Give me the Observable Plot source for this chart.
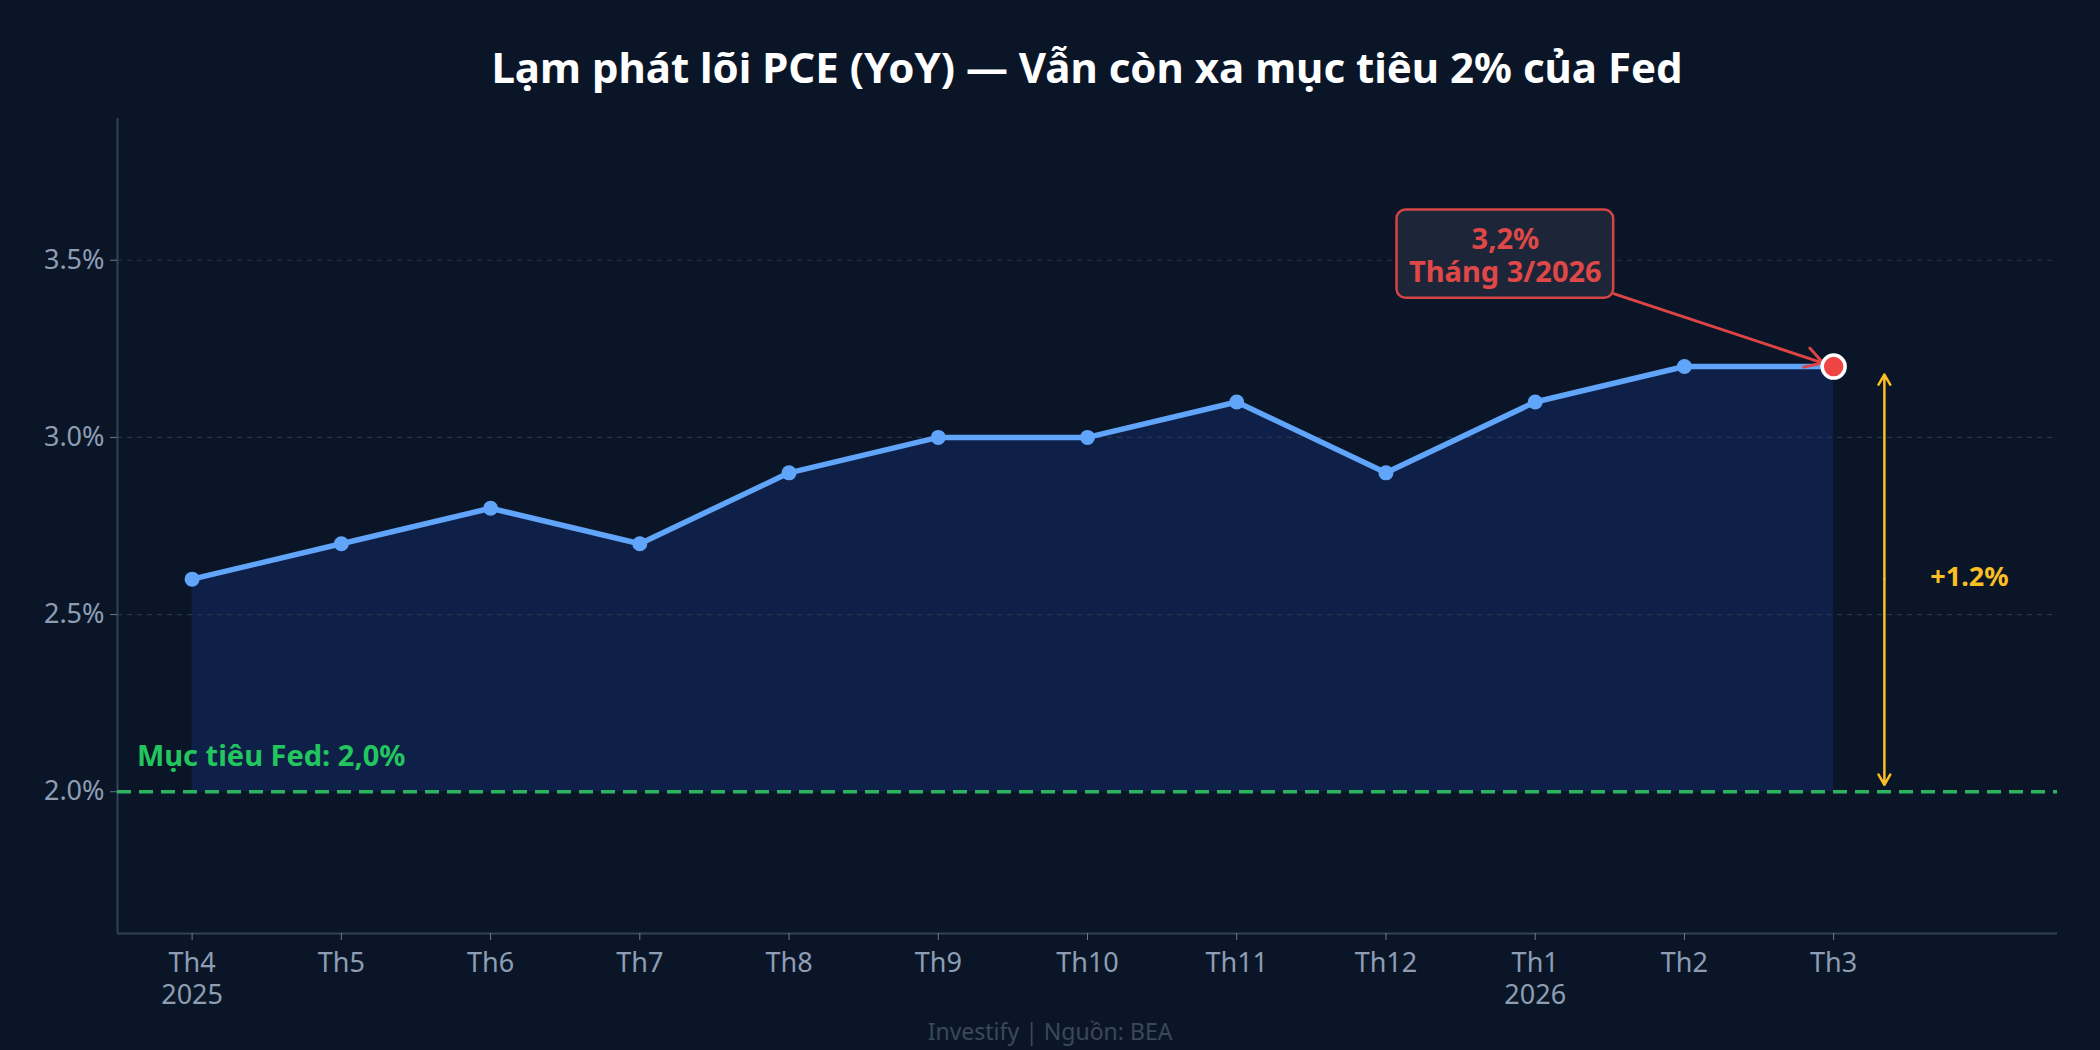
<!DOCTYPE html>
<html><head><meta charset="utf-8">
<script src="https://cdn.jsdelivr.net/npm/d3@7"></script>
<script src="https://cdn.jsdelivr.net/npm/@observablehq/plot@0.6"></script>
<style>
html,body{margin:0;padding:0;background:#0a1628;}
#wrap{position:relative;width:2100px;height:1050px;background:#0a1628;font-family:"Noto Sans",sans-serif;overflow:hidden;}
#title{position:absolute;left:117px;width:1940px;top:38px;text-align:center;color:#ffffff;font-weight:700;font-size:42px;line-height:58px;white-space:nowrap;}
#chart{position:absolute;left:0;top:100px;}
#caption{position:absolute;left:0;width:2100px;top:1016px;text-align:center;color:#3b485b;font-size:23px;line-height:30px;}
</style>
</head><body>
<div id="wrap">
  <div id="title">Lạm phát lõi PCE (YoY) — Vẫn còn xa mục tiêu 2% của Fed</div>
  <div id="chart"></div>
  <div id="caption">Investify | Nguồn: BEA</div>
</div>
<script>
// ---- data ----
const months = ["Th4","Th5","Th6","Th7","Th8","Th9","Th10","Th11","Th12","Th1","Th2","Th3"];
const years  = ["2025","","","","","","","","","2026","",""];
const pce    = [2.6, 2.7, 2.8, 2.7, 2.9, 3.0, 3.0, 3.1, 2.9, 3.1, 3.2, 3.2];
const fedTarget = 2.0;
const yTicks = [2.0, 2.5, 3.0, 3.5];
const yDomain = [1.6, 3.9];
const xDomain = [-0.5, 12.5];
// annotation anchors (data coordinates)
const calloutText = ["3,2%\nTháng 3/2026"];
const calloutPos = [{x: 8.80, y: 3.515}];
const calloutArrowStart = [{x: 9.53, y: 3.405}];
const gapArrowX = 11.34;
const gapLabel = [{x: 11.91, y: 2.605, text: "+1.2%"}];
const targetLabel = [{x: -0.37, y: 2.098, text: "Mục tiêu Fed: 2,0%"}];

const data = pce.map((v, i) => ({i, v}));
const last = data[data.length - 1];
const gapMid = (last.v + fedTarget) / 2;

const plot = Plot.plot({
  width: 2100,
  height: 940,
  marginTop: 18,
  marginBottom: 107,
  marginLeft: 117,
  marginRight: 43,
  style: {background: "transparent", fontFamily: "Noto Sans, sans-serif", overflow: "visible"},
  x: {type: "linear", domain: xDomain},
  y: {domain: yDomain},
  marks: [
    Plot.areaY(data, {x: "i", y1: fedTarget, y2: "v", fill: "#0e2047"}),
    Plot.gridY(yTicks.filter(t => t !== fedTarget), {stroke: "#27364d", strokeOpacity: 1, strokeWidth: 1.2, strokeDasharray: "5,5"}),
    Plot.ruleX([xDomain[0]], {stroke: "#334257", strokeWidth: 2}),
    Plot.ruleY([yDomain[0]], {stroke: "#334257", strokeWidth: 2}),
    Plot.axisY({ticks: yTicks, tickFormat: d => d.toFixed(1) + "%", fontSize: 27, color: "#8e9db3", stroke: "#6b7a90", tickSize: 7, tickPadding: 6, label: null}),
    Plot.axisX({ticks: d3.range(months.length), tickFormat: i => months[i] + (years[i] ? "\n" + years[i] : ""), fontSize: 27, color: "#8e9db3", stroke: "#6b7a90", tickSize: 7, tickPadding: 8, lineHeight: 1.2, label: null}),
    Plot.ruleY([fedTarget], {stroke: "#2bb35f", strokeWidth: 3.5, strokeDasharray: "14,8"}),
    Plot.text(targetLabel, {x: "x", y: "y", text: "text", textAnchor: "start", fill: "#22c55e", fontSize: 29, fontWeight: 700}),
    Plot.line(data, {x: "i", y: "v", stroke: "#60a5fa", strokeWidth: 5.5}),
    Plot.dot(data.slice(0, -1), {x: "i", y: "v", r: 7.5, fill: "#60a5fa"}),
    Plot.arrow(calloutArrowStart, {x1: "x", y1: "y", x2: () => last.i, y2: () => last.v, stroke: "#dc4446", strokeWidth: 3, headLength: 10, insetEnd: 11}),
    Plot.dot([last], {x: "i", y: "v", r: 11.5, fill: "#ef4444", stroke: "#ffffff", strokeWidth: 3.5}),
    Plot.arrow([0], {x1: gapArrowX, x2: gapArrowX, y1: gapMid, y2: last.v, stroke: "#fbbf24", strokeWidth: 2.5, headLength: 7, insetEnd: 8}),
    Plot.arrow([0], {x1: gapArrowX, x2: gapArrowX, y1: gapMid, y2: fedTarget, stroke: "#fbbf24", strokeWidth: 2.5, headLength: 7, insetEnd: 7}),
    Plot.text(gapLabel, {x: "x", y: "y", text: "text", fill: "#fbbf24", fontSize: 27, fontWeight: 700}),
    Plot.text(calloutPos, {x: "x", y: "y", text: () => calloutText[0], fill: "#e04848", fontSize: 29, fontWeight: 700, lineHeight: 1.15, className: "callout"})
  ]
});
document.getElementById("chart").append(plot);

// draw a rounded box behind the callout text
const svg = plot.tagName.toLowerCase() === "svg" ? plot : plot.querySelector("svg");
const g = svg.querySelector("g.callout") || svg.querySelector(".callout");
if (g) {
  const bb = g.getBBox();
  const padX = 12, padY = 8;
  const rect = document.createElementNS("http://www.w3.org/2000/svg", "rect");
  rect.setAttribute("x", bb.x - padX);
  rect.setAttribute("y", bb.y - padY);
  rect.setAttribute("width", bb.width + 2 * padX);
  rect.setAttribute("height", bb.height + 2 * padY);
  rect.setAttribute("rx", 9);
  rect.setAttribute("fill", "#1c2638");
  rect.setAttribute("stroke", "#d54545");
  rect.setAttribute("stroke-width", 2.5);
  g.parentNode.insertBefore(rect, g);
}
</script>
</body></html>
